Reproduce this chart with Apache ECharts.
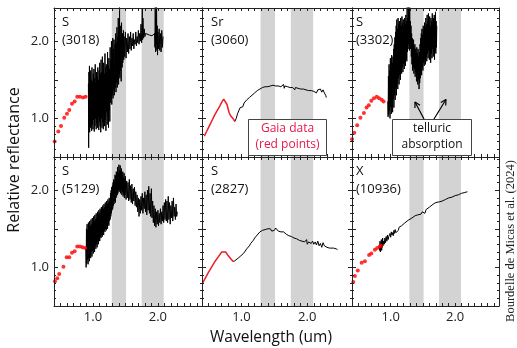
<!DOCTYPE html>
<html><head><meta charset="utf-8">
<script src="https://cdn.jsdelivr.net/npm/echarts@6/dist/echarts.min.js"></script>
<style>html,body{margin:0;padding:0;background:#fff}#c{width:517px;height:348px}</style>
</head><body><div id="c"></div>
<script>
// ---------- data ----------
const panelTypes = ['S', 'Sr', 'S', 'S', 'S', 'X'];
const panelIds = ['(3018)', '(3060)', '(3302)', '(5129)', '(2827)', '(10936)'];
const xTickLabels = ['1.0', '2.0'];
const yTickLabels = ['1.0', '2.0'];
const telluricBands = [[1.29, 1.51], [1.75, 2.09]];

const gaia1 = [[0.41,0.70],[0.466,0.83],[0.508,0.90],[0.558,1.01],[0.60,1.06],[0.635,1.11],[0.677,1.19],[0.718,1.22],[0.758,1.28],[0.80,1.28],[0.846,1.27],[0.887,1.28]];
const spec1 = [[0.930,1.45],[0.934,0.62],[0.938,1.60],[0.942,0.90],[0.946,1.68],[0.950,0.82],[0.955,1.55],[0.960,0.88],[0.965,1.62],[0.970,0.95],[0.975,1.50],[0.980,0.84],[0.985,1.66],[0.990,0.92],[0.995,1.48],[1.000,0.86],[1.005,1.58],[1.010,0.98],[1.015,1.64],[1.020,0.83],[1.025,1.52],[1.030,0.90],[1.035,1.70],[1.040,1.00],[1.045,1.46],[1.050,0.86],[1.055,1.60],[1.060,0.94],[1.065,1.55],[1.070,0.88],[1.075,1.66],[1.080,1.02],[1.085,1.50],[1.090,0.85],[1.095,1.62],[1.100,0.96],[1.105,1.72],[1.110,0.90],[1.115,1.58],[1.120,0.82],[1.125,1.76],[1.130,1.00],[1.135,1.60],[1.140,0.88],[1.145,1.80],[1.150,0.95],[1.155,1.62],[1.160,0.86],[1.165,1.72],[1.170,1.04],[1.175,1.58],[1.180,0.90],[1.185,1.84],[1.190,0.98],[1.195,1.66],[1.200,0.84],[1.205,1.70],[1.210,1.08],[1.215,1.60],[1.220,0.92],[1.225,1.86],[1.230,1.02],[1.235,1.68],[1.240,0.88],[1.245,1.78],[1.250,1.10],[1.255,1.64],[1.260,0.96],[1.265,1.92],[1.270,1.20],[1.275,1.76],[1.280,1.24],[1.285,2.00],[1.290,1.18],[1.295,1.84],[1.300,1.30],[1.305,2.04],[1.310,1.26],[1.315,1.90],[1.320,1.36],[1.325,2.02],[1.330,1.30],[1.340,1.96],[1.345,1.40],[1.350,2.10],[1.355,1.34],[1.360,1.98],[1.365,1.46],[1.370,2.18],[1.375,1.40],[1.380,2.06],[1.385,1.50],[1.390,2.30],[1.395,1.44],[1.400,2.12],[1.405,1.56],[1.410,2.44],[1.415,1.52],[1.420,2.20],[1.425,1.62],[1.430,2.08],[1.435,1.48],[1.440,2.24],[1.450,1.66],[1.455,2.10],[1.460,1.72],[1.470,2.14],[1.475,1.76],[1.480,2.06],[1.490,1.80],[1.500,2.12],[1.510,1.78],[1.520,2.04],[1.530,1.86],[1.540,2.10],[1.550,1.84],[1.560,2.06],[1.570,1.90],[1.580,2.12],[1.590,1.88],[1.600,2.04],[1.610,1.94],[1.620,2.10],[1.630,1.90],[1.640,2.02],[1.650,1.96],[1.660,2.12],[1.670,1.94],[1.680,2.06],[1.690,1.98],[1.700,2.14],[1.710,1.96],[1.720,2.10],[1.730,2.00],[1.740,2.22],[1.750,1.98],[1.760,2.42],[1.765,2.02],[1.770,2.30],[1.780,2.04],[1.790,2.16],[1.800,2.06],[1.810,2.10],[1.830,2.08],[1.870,2.08],[1.910,2.07],[1.940,2.06],[1.950,2.10],[1.955,1.92],[1.960,2.44],[1.965,1.86],[1.970,2.30],[1.975,1.96],[1.980,2.44],[1.985,1.88],[1.990,2.20],[1.995,1.82],[2.000,2.12],[2.010,1.90],[2.020,2.16],[2.030,1.88],[2.040,2.10],[2.050,1.86],[2.060,2.14],[2.070,1.92],[2.080,2.06]];

const gaia2 = [[0.435,0.77],[0.47,0.83],[0.51,0.90],[0.55,0.97],[0.59,1.04],[0.63,1.10],[0.67,1.16],[0.70,1.21],[0.73,1.25],[0.745,1.26],[0.78,1.18],[0.81,1.08],[0.83,1.04],[0.85,1.05],[0.87,1.00],[0.90,0.96]];
const spec2 = [[0.90,0.96],[0.92,1.00],[0.94,1.06],[0.96,1.10],[0.97,1.08],[0.98,1.14],[1.00,1.16],[1.02,1.15],[1.04,1.20],[1.06,1.19],[1.08,1.24],[1.10,1.22],[1.12,1.27],[1.14,1.26],[1.16,1.30],[1.18,1.29],[1.20,1.33],[1.22,1.32],[1.24,1.36],[1.26,1.35],[1.28,1.38],[1.30,1.37],[1.32,1.40],[1.34,1.38],[1.36,1.41],[1.38,1.39],[1.40,1.41],[1.42,1.40],[1.44,1.42],[1.46,1.41],[1.48,1.43],[1.50,1.44],[1.52,1.42],[1.54,1.41],[1.56,1.42],[1.58,1.40],[1.60,1.41],[1.62,1.40],[1.64,1.44],[1.65,1.39],[1.66,1.42],[1.70,1.41],[1.74,1.40],[1.78,1.40],[1.80,1.42],[1.81,1.37],[1.82,1.40],[1.86,1.39],[1.90,1.38],[1.94,1.38],[1.98,1.37],[2.02,1.36],[2.06,1.36],[2.10,1.35],[2.12,1.36],[2.14,1.33],[2.16,1.37],[2.18,1.35],[2.20,1.38],[2.22,1.34],[2.24,1.37],[2.26,1.33],[2.28,1.30],[2.29,1.27]];

const gaia3 = [[0.40,0.73],[0.435,0.815],[0.48,0.91],[0.53,1.01],[0.585,1.07],[0.626,1.14],[0.66,1.17],[0.70,1.23],[0.74,1.26],[0.785,1.28],[0.82,1.26],[0.86,1.24],[0.89,1.22]];
const spec3 = [[0.955,1.22],[0.960,1.02],[0.965,1.55],[0.970,1.05],[0.975,1.70],[0.980,1.10],[0.985,1.62],[0.990,1.00],[0.995,1.78],[1.000,1.15],[1.005,1.66],[1.010,1.06],[1.015,1.82],[1.020,1.20],[1.025,1.72],[1.030,1.08],[1.035,1.80],[1.040,1.25],[1.045,1.90],[1.050,1.14],[1.055,1.96],[1.060,1.30],[1.065,2.05],[1.070,1.24],[1.075,2.12],[1.080,1.40],[1.085,2.20],[1.090,1.30],[1.095,2.28],[1.100,1.46],[1.105,2.16],[1.110,1.38],[1.115,2.30],[1.120,1.52],[1.125,2.22],[1.130,1.44],[1.135,2.26],[1.140,1.56],[1.145,2.18],[1.150,1.50],[1.155,2.30],[1.160,1.62],[1.165,2.20],[1.170,1.58],[1.175,2.32],[1.180,1.66],[1.185,2.24],[1.190,1.60],[1.195,2.28],[1.200,1.70],[1.205,2.18],[1.210,1.64],[1.215,2.30],[1.220,1.72],[1.225,2.22],[1.230,1.68],[1.235,2.34],[1.240,1.78],[1.245,2.26],[1.250,1.74],[1.255,2.44],[1.260,1.86],[1.265,2.30],[1.270,1.90],[1.275,2.44],[1.280,1.96],[1.285,2.38],[1.290,1.88],[1.295,2.44],[1.300,1.98],[1.305,2.26],[1.310,1.90],[1.315,2.20],[1.320,1.80],[1.325,2.10],[1.330,1.70],[1.335,2.04],[1.340,1.62],[1.345,1.98],[1.350,1.66],[1.355,2.02],[1.360,1.58],[1.365,1.92],[1.370,1.64],[1.375,1.96],[1.380,1.54],[1.385,1.90],[1.390,1.60],[1.395,1.86],[1.400,1.48],[1.405,1.92],[1.410,1.56],[1.415,1.84],[1.420,1.44],[1.425,1.90],[1.430,1.50],[1.435,1.80],[1.440,1.38],[1.445,1.86],[1.450,1.46],[1.455,1.96],[1.460,1.52],[1.465,2.04],[1.470,1.60],[1.475,2.10],[1.480,1.56],[1.485,2.16],[1.490,1.66],[1.495,2.08],[1.500,1.62],[1.505,2.20],[1.510,1.72],[1.515,2.14],[1.520,1.68],[1.525,2.24],[1.530,1.76],[1.535,2.18],[1.540,1.70],[1.545,2.30],[1.550,1.80],[1.555,2.22],[1.560,1.74],[1.565,2.34],[1.570,1.84],[1.575,2.26],[1.580,1.78],[1.585,2.36],[1.590,1.88],[1.595,2.24],[1.600,1.76],[1.605,2.32],[1.610,1.86],[1.615,2.20],[1.620,1.72],[1.625,2.30],[1.630,1.84],[1.635,2.26],[1.640,1.78],[1.645,2.36],[1.650,1.90],[1.655,2.22],[1.660,1.80],[1.665,2.30],[1.670,1.86],[1.675,2.34],[1.680,1.76],[1.685,2.28],[1.690,1.88],[1.695,2.38],[1.700,1.84],[1.705,2.26],[1.710,1.92],[1.715,2.20]];

const gaia4 = [[0.415,0.82],[0.45,0.86],[0.48,0.915],[0.545,1.01],[0.595,1.13],[0.635,1.13],[0.677,1.19],[0.718,1.21],[0.758,1.27],[0.80,1.27],[0.84,1.26],[0.88,1.25]];
const spec4 = [[0.890,1.25],[0.895,1.00],[0.900,1.50],[0.905,1.05],[0.910,1.56],[0.915,1.10],[0.920,1.48],[0.925,1.04],[0.930,1.58],[0.935,1.12],[0.940,1.52],[0.945,1.08],[0.950,1.60],[0.955,1.16],[0.960,1.54],[0.965,1.12],[0.970,1.62],[0.975,1.20],[0.980,1.56],[0.985,1.14],[0.990,1.64],[0.995,1.22],[1.000,1.58],[1.005,1.18],[1.010,1.66],[1.015,1.24],[1.020,1.60],[1.025,1.20],[1.030,1.68],[1.035,1.28],[1.040,1.62],[1.045,1.24],[1.050,1.70],[1.055,1.30],[1.060,1.64],[1.065,1.26],[1.070,1.72],[1.075,1.34],[1.080,1.68],[1.085,1.30],[1.090,1.74],[1.095,1.36],[1.100,1.70],[1.105,1.34],[1.110,1.76],[1.115,1.40],[1.120,1.72],[1.125,1.38],[1.130,1.78],[1.135,1.42],[1.140,1.74],[1.145,1.40],[1.150,1.80],[1.155,1.46],[1.160,1.76],[1.165,1.42],[1.170,1.82],[1.175,1.48],[1.180,1.78],[1.185,1.46],[1.190,1.84],[1.195,1.50],[1.200,1.80],[1.205,1.48],[1.210,1.86],[1.215,1.54],[1.220,1.82],[1.225,1.50],[1.230,1.88],[1.235,1.56],[1.240,1.84],[1.245,1.54],[1.250,1.90],[1.255,1.60],[1.260,1.86],[1.265,1.62],[1.270,1.96],[1.275,1.66],[1.280,2.00],[1.285,1.70],[1.290,2.04],[1.295,1.74],[1.300,2.06],[1.305,1.76],[1.310,2.10],[1.315,1.80],[1.320,2.14],[1.325,1.82],[1.330,2.12],[1.335,1.86],[1.340,2.20],[1.345,1.84],[1.350,2.18],[1.355,1.90],[1.360,2.24],[1.365,1.92],[1.370,2.20],[1.375,1.94],[1.380,2.30],[1.385,1.96],[1.390,2.22],[1.395,2.00],[1.400,2.33],[1.405,1.98],[1.410,2.26],[1.415,2.02],[1.420,2.32],[1.425,1.96],[1.430,2.24],[1.435,2.00],[1.440,2.28],[1.445,1.94],[1.450,2.20],[1.455,1.98],[1.460,2.24],[1.465,1.92],[1.470,2.16],[1.475,1.96],[1.480,2.22],[1.485,1.90],[1.490,2.14],[1.495,1.94],[1.500,2.18],[1.510,1.88],[1.520,2.12],[1.530,1.90],[1.540,2.10],[1.550,1.86],[1.560,2.14],[1.570,1.88],[1.580,2.06],[1.590,1.84],[1.600,2.08],[1.610,1.82],[1.620,2.02],[1.630,1.86],[1.640,2.04],[1.650,1.80],[1.660,1.98],[1.670,1.78],[1.680,1.94],[1.690,1.72],[1.700,1.90],[1.710,1.66],[1.720,1.88],[1.730,1.70],[1.740,1.92],[1.750,1.74],[1.760,1.96],[1.770,1.70],[1.780,1.90],[1.790,1.76],[1.800,1.98],[1.810,1.72],[1.820,1.94],[1.830,1.68],[1.840,2.00],[1.850,1.74],[1.860,2.05],[1.870,1.70],[1.880,1.96],[1.890,1.66],[1.900,2.02],[1.910,1.64],[1.920,1.86],[1.930,1.58],[1.940,1.80],[1.950,1.54],[1.960,1.76],[1.970,1.52],[1.980,1.72],[1.990,1.56],[2.000,1.74],[2.010,1.54],[2.020,1.70],[2.030,1.58],[2.040,1.76],[2.050,1.56],[2.060,1.72],[2.070,1.60],[2.080,1.80],[2.090,1.58],[2.100,1.84],[2.110,1.62],[2.120,1.88],[2.130,1.60],[2.140,1.86],[2.150,1.58],[2.160,1.92],[2.170,1.62],[2.180,1.84],[2.190,1.56],[2.200,1.80],[2.210,1.64],[2.220,1.86],[2.230,1.60],[2.240,1.90],[2.250,1.66],[2.260,1.78],[2.270,1.62],[2.280,1.82],[2.290,1.66],[2.300,1.72]];

const gaia5 = [[0.405,0.79],[0.45,0.86],[0.50,0.94],[0.55,1.01],[0.60,1.08],[0.65,1.14],[0.70,1.20],[0.73,1.22],[0.76,1.20],[0.80,1.15],[0.84,1.11],[0.87,1.08],[0.89,1.08]];
const spec5 = [[0.89,1.08],[0.92,1.10],[0.95,1.12],[0.97,1.11],[0.99,1.15],[1.01,1.14],[1.03,1.18],[1.05,1.20],[1.06,1.18],[1.08,1.24],[1.10,1.25],[1.12,1.28],[1.13,1.26],[1.14,1.31],[1.16,1.32],[1.18,1.35],[1.20,1.38],[1.22,1.40],[1.24,1.42],[1.26,1.44],[1.28,1.46],[1.30,1.45],[1.32,1.48],[1.34,1.47],[1.36,1.49],[1.38,1.48],[1.40,1.50],[1.42,1.48],[1.44,1.50],[1.46,1.47],[1.48,1.49],[1.50,1.48],[1.52,1.51],[1.54,1.50],[1.56,1.47],[1.58,1.48],[1.60,1.46],[1.62,1.45],[1.64,1.46],[1.66,1.44],[1.68,1.43],[1.70,1.44],[1.72,1.41],[1.74,1.42],[1.76,1.40],[1.78,1.41],[1.80,1.38],[1.82,1.39],[1.84,1.37],[1.86,1.38],[1.88,1.35],[1.90,1.36],[1.92,1.34],[1.94,1.36],[1.96,1.33],[1.98,1.31],[1.99,1.36],[2.00,1.30],[2.02,1.33],[2.04,1.35],[2.06,1.31],[2.08,1.34],[2.10,1.30],[2.12,1.33],[2.14,1.29],[2.16,1.34],[2.18,1.28],[2.20,1.31],[2.22,1.26],[2.24,1.32],[2.26,1.28],[2.28,1.30],[2.30,1.26],[2.32,1.28],[2.34,1.25],[2.36,1.27],[2.40,1.25],[2.44,1.24],[2.46,1.23]];

const gaia6 = [[0.42,0.81],[0.445,0.89],[0.49,0.96],[0.55,1.06],[0.60,1.08],[0.665,1.16],[0.70,1.18],[0.755,1.23],[0.79,1.25],[0.83,1.27],[0.85,1.28]];
const spec6 = [[0.82,1.26],[0.83,1.22],[0.835,1.34],[0.84,1.20],[0.845,1.30],[0.85,1.24],[0.855,1.36],[0.86,1.22],[0.865,1.32],[0.87,1.26],[0.875,1.38],[0.88,1.28],[0.89,1.34],[0.90,1.30],[0.91,1.38],[0.92,1.32],[0.93,1.40],[0.94,1.34],[0.95,1.42],[0.96,1.36],[0.97,1.40],[0.98,1.38],[0.99,1.44],[1.00,1.39],[1.01,1.46],[1.02,1.42],[1.03,1.45],[1.04,1.41],[1.05,1.48],[1.06,1.44],[1.07,1.49],[1.08,1.45],[1.09,1.47],[1.10,1.46],[1.12,1.48],[1.13,1.52],[1.15,1.50],[1.17,1.54],[1.19,1.54],[1.21,1.57],[1.24,1.58],[1.27,1.61],[1.30,1.62],[1.33,1.64],[1.36,1.65],[1.38,1.67],[1.39,1.65],[1.42,1.68],[1.45,1.70],[1.47,1.69],[1.49,1.72],[1.51,1.71],[1.53,1.70],[1.55,1.75],[1.57,1.75],[1.60,1.78],[1.63,1.80],[1.66,1.82],[1.68,1.83],[1.70,1.84],[1.72,1.83],[1.76,1.85],[1.80,1.86],[1.85,1.88],[1.90,1.90],[1.95,1.91],[2.00,1.93],[2.05,1.94],[2.10,1.96],[2.15,1.97],[2.17,1.95],[2.19,1.98]];

const gaiaSets = [gaia1, gaia2, gaia3, gaia4, gaia5, gaia6];
const specSets = [spec1, spec2, spec3, spec4, spec5, spec6];
const gaiaAsLine = [false, true, false, false, true, false];

// ---------- layout ----------
const cols = [{left: 54, width: 148, lab: 8}, {left: 202, width: 150, lab: 9}, {left: 352, width: 147, lab: 4}];
const rows = [{top: 8, height: 149}, {top: 157, height: 149}];
const FONT = 'Open Sans';
const fmtOnly = (list) => (v) => {
  for (const s of list) if (Math.abs(v - parseFloat(s)) < 1e-6) return s;
  return '';
};

const grids = [], xAxes = [], yAxes = [], series = [], graphics = [];
for (let i = 0; i < 6; i++) {
  const r = Math.floor(i / 3), c = i % 3;
  const col = cols[c], row = rows[r];
  grids.push({left: col.left, top: row.top, width: col.width, height: row.height});
  const axLine = {show: true, lineStyle: {color: '#222', width: 1}};
  const xBase = {gridIndex: i, type: 'value', min: 0.4, max: 2.68, interval: 0.1, z: 10,
    axisLine: axLine, splitLine: {show: false},
    axisTick: {show: true, inside: true, length: 3, lineStyle: {color: '#222'}}};
  xAxes.push(Object.assign({}, xBase, {position: 'bottom',
    axisLabel: {show: r === 1, margin: 5, fontFamily: FONT, fontSize: 13, color: '#222',
      formatter: fmtOnly(xTickLabels), showMinLabel: true, showMaxLabel: false}}));
  xAxes.push(Object.assign({}, xBase, {position: 'top', axisLabel: {show: false}}));
  const yBase = {gridIndex: i, type: 'value', min: 0.5, max: 2.43, interval: 0.5, z: 10,
    axisLine: axLine, splitLine: {show: false},
    axisTick: {show: true, inside: true, length: 4, lineStyle: {color: '#222'}},
    minorTick: {show: true, splitNumber: 5, length: 2, lineStyle: {color: '#222'}}};
  yAxes.push(Object.assign({}, yBase, {position: 'left',
    axisLabel: {show: c === 0, margin: 5, fontFamily: FONT, fontSize: 13, color: '#222',
      formatter: fmtOnly(yTickLabels), showMaxLabel: false}}));
  yAxes.push(Object.assign({}, yBase, {position: 'right', axisLabel: {show: false}}));

  // telluric bands
  series.push({type: 'line', xAxisIndex: 2 * i, yAxisIndex: 2 * i, data: [], z: 1, silent: true,
    markArea: {silent: true, itemStyle: {color: '#d3d3d3'},
      data: telluricBands.map(b => [{xAxis: b[0]}, {xAxis: b[1]}])}});
  // spectrum
  series.push({type: 'line', xAxisIndex: 2 * i, yAxisIndex: 2 * i, data: specSets[i], z: 3,
    showSymbol: false, clip: true, animation: false,
    lineStyle: {color: '#000', width: 1}});
  // gaia
  if (gaiaAsLine[i]) {
    series.push({type: 'line', xAxisIndex: 2 * i, yAxisIndex: 2 * i, data: gaiaSets[i], z: 4,
      showSymbol: false, clip: true, animation: false, lineStyle: {color: '#ee1c25', width: 1.5}});
  } else {
    series.push({type: 'scatter', xAxisIndex: 2 * i, yAxisIndex: 2 * i, data: gaiaSets[i], z: 4,
      symbolSize: 4, clip: true, animation: false, itemStyle: {color: '#ff0000'}});
  }
  // panel labels
  graphics.push({type: 'text', x: col.left + col.lab, y: row.top + 14.5, z: 50,
    style: {text: panelTypes[i], fontFamily: FONT, fontSize: 13, fill: '#111', verticalAlign: 'middle', align: 'left'}});
  graphics.push({type: 'text', x: col.left + col.lab, y: row.top + 32, z: 50,
    style: {text: panelIds[i], fontFamily: FONT, fontSize: 13, fill: '#111', verticalAlign: 'middle', align: 'left'}});
}

// annotation boxes
function box(x, y, w, h) {
  return {type: 'rect', z: 60, shape: {x: x, y: y, width: w, height: h},
    style: {fill: '#fff', stroke: '#444', lineWidth: 1}};
}
graphics.push(box(248.5, 119.5, 78, 36));
graphics.push({type: 'text', x: 287.5, y: 128.5, z: 61, style: {text: 'Gaia data', fontFamily: FONT, fontSize: 12, fill: '#e8164a', align: 'center', verticalAlign: 'middle'}});
graphics.push({type: 'text', x: 287.5, y: 144.5, z: 61, style: {text: '(red points)', fontFamily: FONT, fontSize: 12, fill: '#e8164a', align: 'center', verticalAlign: 'middle'}});
graphics.push(box(392.5, 119.5, 79, 36));
graphics.push({type: 'text', x: 432, y: 128.5, z: 61, style: {text: 'telluric', fontFamily: FONT, fontSize: 12, fill: '#111', align: 'center', verticalAlign: 'middle'}});
graphics.push({type: 'text', x: 432, y: 144.5, z: 61, style: {text: 'absorption', fontFamily: FONT, fontSize: 12, fill: '#111', align: 'center', verticalAlign: 'middle'}});

function arrow(x1, y1, x2, y2) {
  const a = Math.atan2(y2 - y1, x2 - x1), L = 6, s = 0.5;
  const st = {stroke: '#000', lineWidth: 1.2};
  return [
    {type: 'line', z: 62, shape: {x1, y1, x2, y2}, style: st},
    {type: 'line', z: 62, shape: {x1: x2, y1: y2, x2: x2 - L * Math.cos(a - s), y2: y2 - L * Math.sin(a - s)}, style: st},
    {type: 'line', z: 62, shape: {x1: x2, y1: y2, x2: x2 - L * Math.cos(a + s), y2: y2 - L * Math.sin(a + s)}, style: st}
  ];
}
graphics.push(...arrow(424, 119, 415, 102));
graphics.push(...arrow(434, 119, 446, 99.5));

// axis titles and credit
graphics.push({type: 'text', x: 14, y: 160, rotation: Math.PI / 2, z: 50,
  style: {text: 'Relative reflectance', fontFamily: FONT, fontSize: 16, fill: '#111', align: 'center', verticalAlign: 'middle'}});
graphics.push({type: 'text', x: 271, y: 338, z: 50,
  style: {text: 'Wavelength (um)', fontFamily: FONT, fontSize: 15.5, fill: '#111', align: 'center', verticalAlign: 'middle'}});
graphics.push({type: 'text', x: 511, y: 241, rotation: Math.PI / 2, z: 50,
  style: {text: 'Bourdelle de Micas et al. (2024)', fontFamily: 'Liberation Serif', fontSize: 12.5, fill: '#222', align: 'center', verticalAlign: 'middle'}});

const chart = echarts.init(document.getElementById('c'), null, {renderer: 'canvas'});
chart.setOption({
  animation: false,
  backgroundColor: '#fff',
  grid: grids, xAxis: xAxes, yAxis: yAxes, series: series, graphic: graphics
});
</script></body></html>
